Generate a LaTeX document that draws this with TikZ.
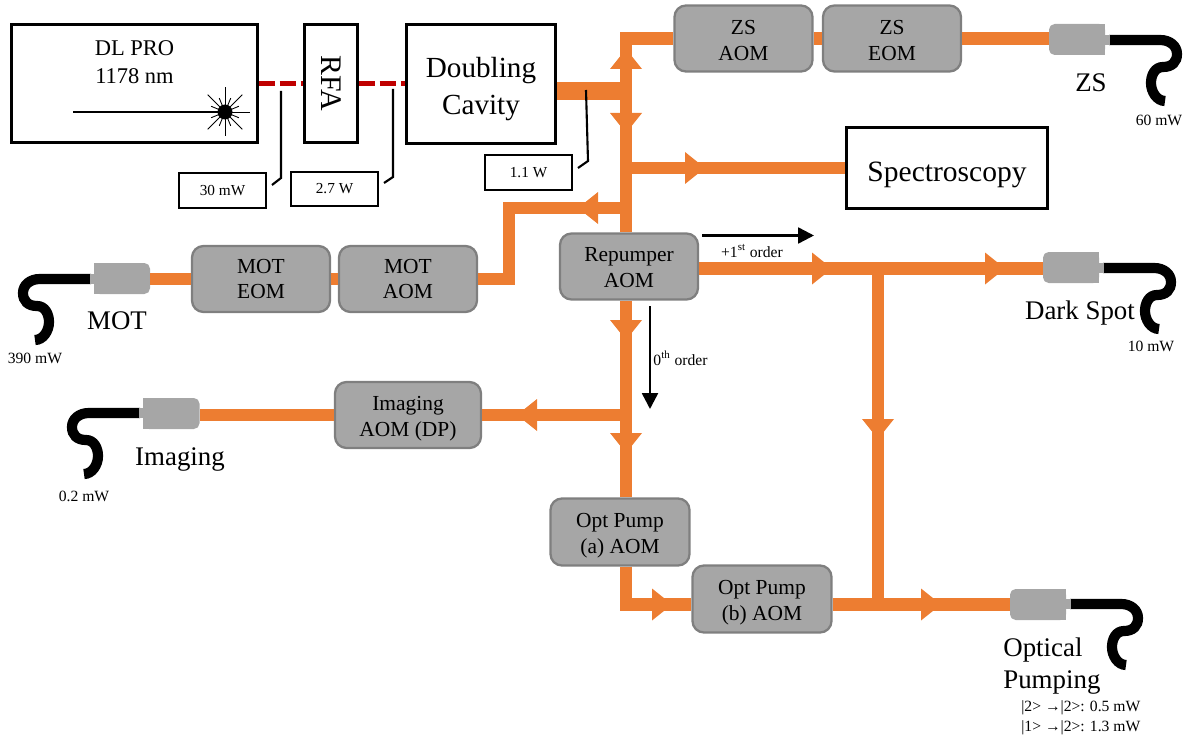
\documentclass[tikz,border=0pt]{standalone}
\usepackage{fontspec}
\setmainfont{Liberation Serif}
\usetikzlibrary{arrows.meta, positioning}
\definecolor{beamorange}{RGB}{237,125,49}
\definecolor{aomgray}{RGB}{166,166,166}
\definecolor{aomedge}{RGB}{127,127,127}
\definecolor{seedred}{RGB}{192,0,0}

% arrow tip sitting on a beam: base point, direction
\newcommand{\beamtip}[2]{\fill[beamorange, shift={(#1)}, rotate=#2] (0,-16) -- (20,0) -- (0,16) -- cycle;}
% fibre tail leaving a coupler: start point, side (1 right, -1 left)
\newcommand{\fibretail}[2]{\draw[fibre, shift={(#1)}, xscale=#2] (-1,0) -- (50,0)
    .. controls (60,0) and (67,6) .. (67,14)
    .. controls (67,22) and (62,27) .. (53,27)
    .. controls (45,27) and (41,35) .. (41,43)
    .. controls (41,52) and (47,61) .. (55,61);}
% squares off the fibre side of a coupler
\newcommand{\squareend}[2]{\fill[aomgray] (#1.north) rectangle (#1.south #2);}
% taller first line, pushes a box text down
\newcommand{\dropline}[1]{\rule{0pt}{#1}}

\begin{document}
\begin{tikzpicture}[
    x=0.02cm, y=-0.02cm,
    >=Stealth,
    beam/.style={line width=7.1pt, beamorange},
    widebeam/.style={line width=10pt, beamorange},
    seed/.style={line width=3.2pt, seedred, dash pattern=on 9.4pt off 2.6pt},
    fibre/.style={line width=5.8pt, black},
    callout/.style={line width=1.2pt, black},
    order/.style={->, line width=1.4pt, black, >={Triangle[length=9pt, width=9pt]}},
    whitebox/.style 2 args={draw=black, line width=1.3pt, fill=white, align=center, inner sep=0pt,
        minimum width=#1*0.02cm, minimum height=#2*0.02cm},
    aom/.style 2 args={draw=aomedge, line width=1.3pt, fill=aomgray, rounded corners=6.5pt, align=center,
        inner sep=0pt, font=\fontsize{12.2}{14.7}\selectfont,
        minimum width=#1*0.02cm, minimum height=#2*0.02cm},
    coupler/.style={fill=aomgray, rounded corners=3.2pt, inner sep=0pt,
        minimum width=56*0.02cm, minimum height=31*0.02cm},
    bigtxt/.style={font=\fontsize{15.3}{18.5}\selectfont, align=left, inner sep=0pt},
    smalltxt/.style={font=\fontsize{8.9}{11.3}\selectfont, align=left, inner sep=0pt},
]
\useasboundingbox (0,0) rectangle (1191,740);

%--- Coordinates ---
\def\busx{626}      % main vertical beam
\def\sidex{878}     % second vertical beam
\def\motx{509}      % riser to the MOT AOM
\def\topy{38.5}     % ZS line
\def\specy{168}     % spectroscopy branch
\def\moty{208}      % MOT branch
\def\firsty{268.5}  % +1 order line
\def\imgy{415}      % imaging branch
\def\pumpy{604.5}   % optical pumping line

%============================================================
% Orange beams
%============================================================
\node[whitebox={149}{119}, font=\fontsize{16.6}{21}\selectfont] (cavity) at (481,84)
    {\dropline{17.2pt}Doubling\\Cavity};
\node[whitebox={201}{81}, font=\fontsize{16.8}{20}\selectfont] (spectro) at (947,168) {\dropline{19pt}Spectroscopy};
\node[aom={138}{66}] (zsaom) at (743.5,38.5) {\dropline{10.4pt}ZS\\AOM};
\node[aom={138}{66}] (zseom) at (892,38.5) {\dropline{10.4pt}ZS\\EOM};
\node[aom={138}{66}] (repaom) at (629,266.5) {\dropline{9.2pt}Repumper\\AOM};
\node[aom={138}{66}] (moteom) at (261,279) {MOT\\EOM};
\node[aom={138}{66}] (motaom) at (408,279) {MOT\\AOM};
\node[aom={146}{66}] (imgaom) at (408,415) {\dropline{12.6pt}Imaging\\AOM (DP)};
\node[aom={139}{67}] (optaaom) at (620,532) {\dropline{12.6pt}Opt Pump\\(a) AOM};
\node[aom={139}{67}] (optbaom) at (762,599) {\dropline{12.6pt}Opt Pump\\(b) AOM};

% Fibre couplers
\node[coupler] (zscpl) at (1077,39.5) {};
\node[coupler] (darkcpl) at (1071,267.5) {};
\node[coupler] (pumpcpl) at (1038,604.5) {};
\node[coupler] (motcpl) at (122,278.5) {};
\node[coupler] (imgcpl) at (171.5,413.5) {};
\squareend{zscpl}{east}
\squareend{darkcpl}{east}
\squareend{pumpcpl}{east}
\squareend{motcpl}{west}
\squareend{imgcpl}{west}

\draw[widebeam] (cavity.east |- 0,91) -- (\busx,91);
\draw[beam] (zsaom.west) -- (\busx,\topy) -- (\busx,0 |- repaom.north);
\draw[beam] (zsaom.east) -- (zseom.west);
\draw[beam] (zseom.east) -- (zscpl.west |- zseom.east);
\draw[beam] (\busx,\specy) -- (spectro.west);
\draw[beam] (\busx,\moty) -- (\motx,\moty) -- (\motx,279) -- (motaom.east);
\draw[beam] (motaom.west) -- (moteom.east);
\draw[beam] (moteom.west) -- (motcpl.east |- moteom.west);
\draw[beam] (\busx,0 |- repaom.south) -- (\busx,0 |- optaaom.north);
\draw[beam] (\busx,\imgy) -- (imgaom.east |- 0,\imgy);
\draw[beam] (imgaom.west |- 0,\imgy) -- (imgcpl.east |- 0,\imgy);
\draw[beam] (\busx,0 |- optaaom.south) -- (\busx,\pumpy) -- (optbaom.west |- 0,\pumpy);
\draw[beam] (repaom.east |- 0,\firsty) -- (darkcpl.west |- 0,\firsty);
\draw[beam] (\sidex,\firsty) -- (\sidex,\pumpy);
\draw[beam] (optbaom.east |- 0,\pumpy) -- (pumpcpl.west);

% Tips on the beams
\beamtip{\busx,69}{90}
\beamtip{\busx,113}{-90}
\beamtip{685,\specy}{0}
\beamtip{598,\moty}{180}
\beamtip{812,\firsty}{0}
\beamtip{985,\firsty}{0}
\beamtip{\busx,320}{-90}
\beamtip{\busx,433}{-90}
\beamtip{537,\imgy}{180}
\beamtip{\sidex,419}{-90}
\beamtip{652,\pumpy}{0}
\beamtip{921,\pumpy}{0}

%============================================================
% Boxes on the red seed line
%============================================================
\node[whitebox={246}{118}] (dlpro) at (134.5,83.5) {};
\node[whitebox={53}{118}] (rfa) at (331,83.5) {};
\node[font=\fontsize{17}{20}\selectfont, rotate=-90, inner sep=0pt] (rfatxt) at (331,83.5) {RFA};
\draw[seed] (dlpro.east |- 0,83.5) -- (rfa.west |- 0,83.5);
\draw[seed] (rfa.east |- 0,83.5) -- (cavity.west |- 0,83.5);

%============================================================
% Laser in the DL PRO box
%============================================================
\node[font=\fontsize{12.8}{15.9}\selectfont, align=center, inner sep=0pt] (dltxt) at (134.5,62) {DL PRO\\1178 nm};
\coordinate (star) at (225,112);
\draw[line width=1.2pt] (73,112) -- (star);
\foreach \a in {0,45,...,315}
    \draw[line width=0.5pt] (star) -- ++(\a:24.5);
\foreach \a in {22.5,67.5,...,337.5}
    \draw[line width=0.5pt] (star) -- ++(\a:15);
\fill (star) circle (7.5);

%============================================================
% Power read-outs
%============================================================
\node[whitebox={87}{35}, font=\fontsize{8.7}{11}\selectfont] (pa) at (222.5,190.5) {30 mW};
\node[whitebox={87}{34}, font=\fontsize{8.7}{11}\selectfont] (pb) at (334.5,189) {2.7 W};
\node[whitebox={87}{35}, font=\fontsize{8.7}{11}\selectfont] (pc) at (528.5,172.5) {1.1 W};
\coordinate (tapa) at (281,91);
\coordinate (tapb) at (393,89);
\coordinate (tapc) at (586,90);
\draw[callout] (tapa) -- ++(0,87) -- ++(-9,7);
\draw[callout] (tapb) -- ++(0,88) -- ++(-9,6);
\draw[callout] (tapc) -- ++(2,71) -- ++(-10,7);

%============================================================
% Diffraction orders
%============================================================
\coordinate (firsta) at (702,235.5);
\coordinate (firstb) at (814,235.5);
\coordinate (zeroa) at (650,306);
\coordinate (zerob) at (650,409);
\draw[order] (firsta) -- (firstb);
\draw[order] (zeroa) -- (zerob);
\node[font=\fontsize{8.9}{11}\selectfont, inner sep=0pt] (firsttxt) at (752,251) {+1\textsuperscript{st} order};
\node[font=\fontsize{8.9}{11}\selectfont, inner sep=0pt] (zerotxt) at (680.5,358) {0\textsuperscript{th} order};

%============================================================
% Fibres
%============================================================
\fibretail{1110,40}{1}
\fibretail{1104,268}{1}
\fibretail{1071,604}{1}
\fibretail{90,279}{-1}
\fibretail{139,413}{-1}

% Necks between coupler and fibre
\fill[aomgray] (zscpl.east |- 0,35) rectangle (1110,45);
\fill[aomgray] (darkcpl.east |- 0,263) rectangle (1104,273);
\fill[aomgray] (pumpcpl.east |- 0,599) rectangle (1071,609);
\fill[aomgray] (motcpl.west |- 0,274) rectangle (90,284);
\fill[aomgray] (imgcpl.west |- 0,408) rectangle (139,418);

%============================================================
% Fibre labels
%============================================================
\node[bigtxt] (zstxt) at (1091,83) {ZS};
\node[smalltxt] (zspow) at (1159,120) {60 mW};
\node[bigtxt] (darktxt) at (1080,313) {Dark Spot};
\node[smalltxt] (darkpow) at (1151,346) {10 mW};
\node[bigtxt] (mottxt) at (117,321) {MOT};
\node[smalltxt] (motpow) at (35,358) {390 mW};
\node[bigtxt] (imgtxt) at (180,459) {Imaging};
\node[smalltxt] (imgpow) at (84,496) {0.2 mW};
\node[bigtxt, anchor=west] (pumptxt) at (1003,666) {Optical\\Pumping};
\node[smalltxt, anchor=west] (pumppow) at (1021,718) {|2> →|2>: 0.5 mW\\|1> →|2>: 1.3 mW};

\end{tikzpicture}
\end{document}
